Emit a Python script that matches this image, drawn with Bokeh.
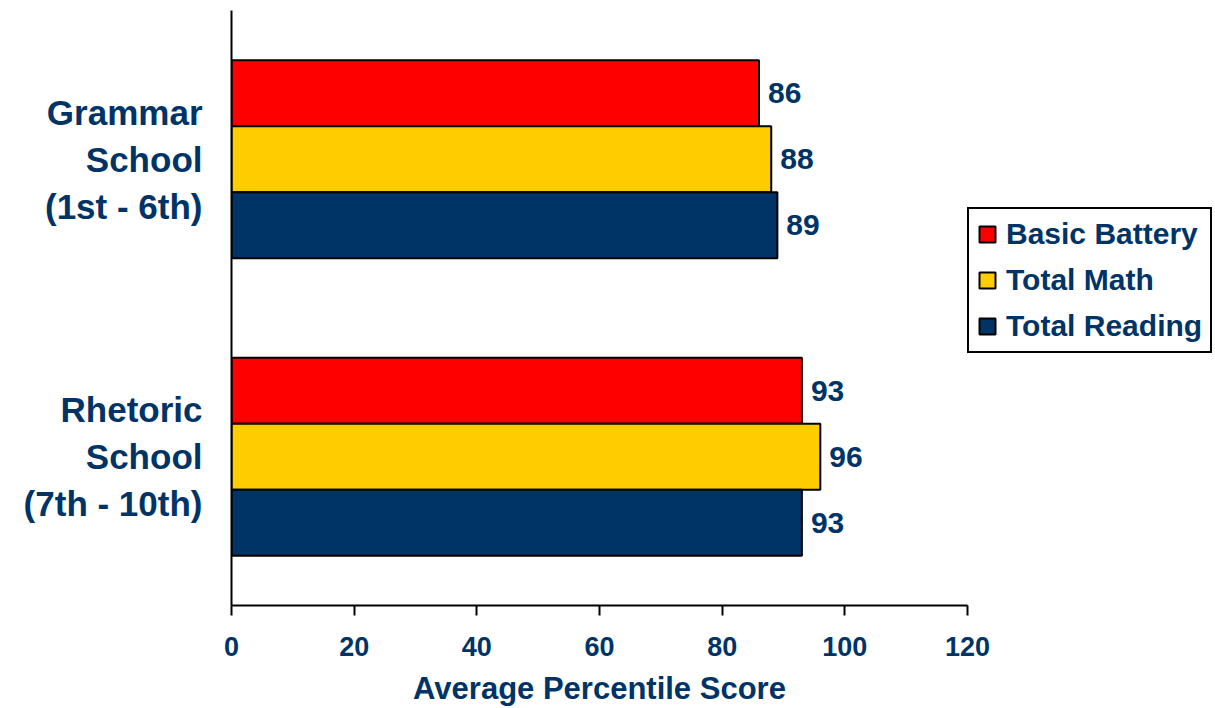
from bokeh.plotting import figure
from bokeh.models import Range1d, FixedTicker, ColumnDataSource
from bokeh.core.properties import value
from bokeh.embed import file_html
from bokeh.resources import INLINE

groups = ["Grammar\nSchool\n(1st - 6th)", "Rhetoric\nSchool\n(7th - 10th)"]
series = ["Basic Battery", "Total Math", "Total Reading"]
basic_battery = [86, 93]
total_math = [88, 96]
total_reading = [89, 93]
colors = ["#FF0000", "#FFCC00", "#003366"]
x_ticks = [0, 20, 40, 60, 80, 100, 120]

TXT = "#003366"
FONT = "Liberation Sans"

p = figure(frame_width=736, frame_height=595, output_backend="svg", toolbar_location=None,
           x_range=Range1d(0, 120), y_range=Range1d(-0.5, 1.5),
           min_border_left=231, min_border_right=0, min_border_top=10,
           min_border_bottom=103)
p.outline_line_color = None
p.xgrid.visible = False
p.ygrid.visible = False
p.background_fill_color = "white"
p.border_fill_color = "white"

bar_h = 0.222
n = len(groups)
centers = [n - 1 - i for i in range(n)]
offsets = [bar_h, 0.0, -bar_h]
all_vals = [basic_battery, total_math, total_reading]

for s, vals, col, off in zip(series, all_vals, colors, offsets):
    src = ColumnDataSource(dict(y=[c + off for c in centers], x=vals,
                                lab=[str(v) for v in vals]))
    p.hbar(y="y", right="x", left=0, height=bar_h, source=src, fill_color=col,
           line_color="black", line_width=2, legend_label=s)
    p.text(x="x", y="y", text="lab", source=src, x_offset=9,
           text_align="left", text_baseline="middle", text_color=TXT,
           text_font=value(FONT), text_font_style="bold", text_font_size="30px")

# x axis
xa = p.xaxis[0]
xa.ticker = FixedTicker(ticks=x_ticks)
xa.minor_tick_line_color = None
xa.major_tick_out = 10
xa.major_tick_in = 0
xa.major_tick_line_color = "black"
xa.major_tick_line_width = 2
xa.axis_line_color = "black"
xa.axis_line_width = 2
xa.major_label_standoff = 21
xa.major_label_text_font = FONT
xa.major_label_text_font_style = "bold"
xa.major_label_text_font_size = "27px"
xa.major_label_text_color = TXT
xa.axis_label = "Average Percentile Score"
xa.axis_label_text_font = FONT
xa.axis_label_text_font_style = "bold"
xa.axis_label_text_font_size = "31px"
xa.axis_label_text_color = TXT
xa.axis_label_standoff = 12

# y axis: line + category labels
ya = p.yaxis[0]
ya.ticker = FixedTicker(ticks=centers)
ya.major_label_overrides = {c: g for c, g in zip(centers, groups)}
ya.minor_tick_line_color = None
ya.major_tick_line_color = None
ya.major_tick_out = 0
ya.major_tick_in = 0
ya.major_label_standoff = 29
ya.major_label_text_font = FONT
ya.major_label_text_font_style = "bold"
ya.major_label_text_font_size = "35px"
ya.major_label_text_color = TXT
ya.major_label_text_line_height = 1.2
ya.axis_line_color = "black"
ya.axis_line_width = 2

lg = p.legend[0]
p.add_layout(lg, "right")
lg.location = (0, 252)
lg.border_line_color = "black"
lg.border_line_alpha = 1.0
lg.border_line_width = 2
lg.background_fill_color = "white"
lg.label_text_font = FONT
lg.label_text_font_style = "bold"
lg.label_text_font_size = "30px"
lg.label_text_color = TXT
lg.glyph_width = 20
lg.glyph_height = 20
lg.label_standoff = 9
lg.spacing = 12
lg.padding = 8
lg.margin = 0

open("out.html", "w").write(file_html(p, INLINE))
